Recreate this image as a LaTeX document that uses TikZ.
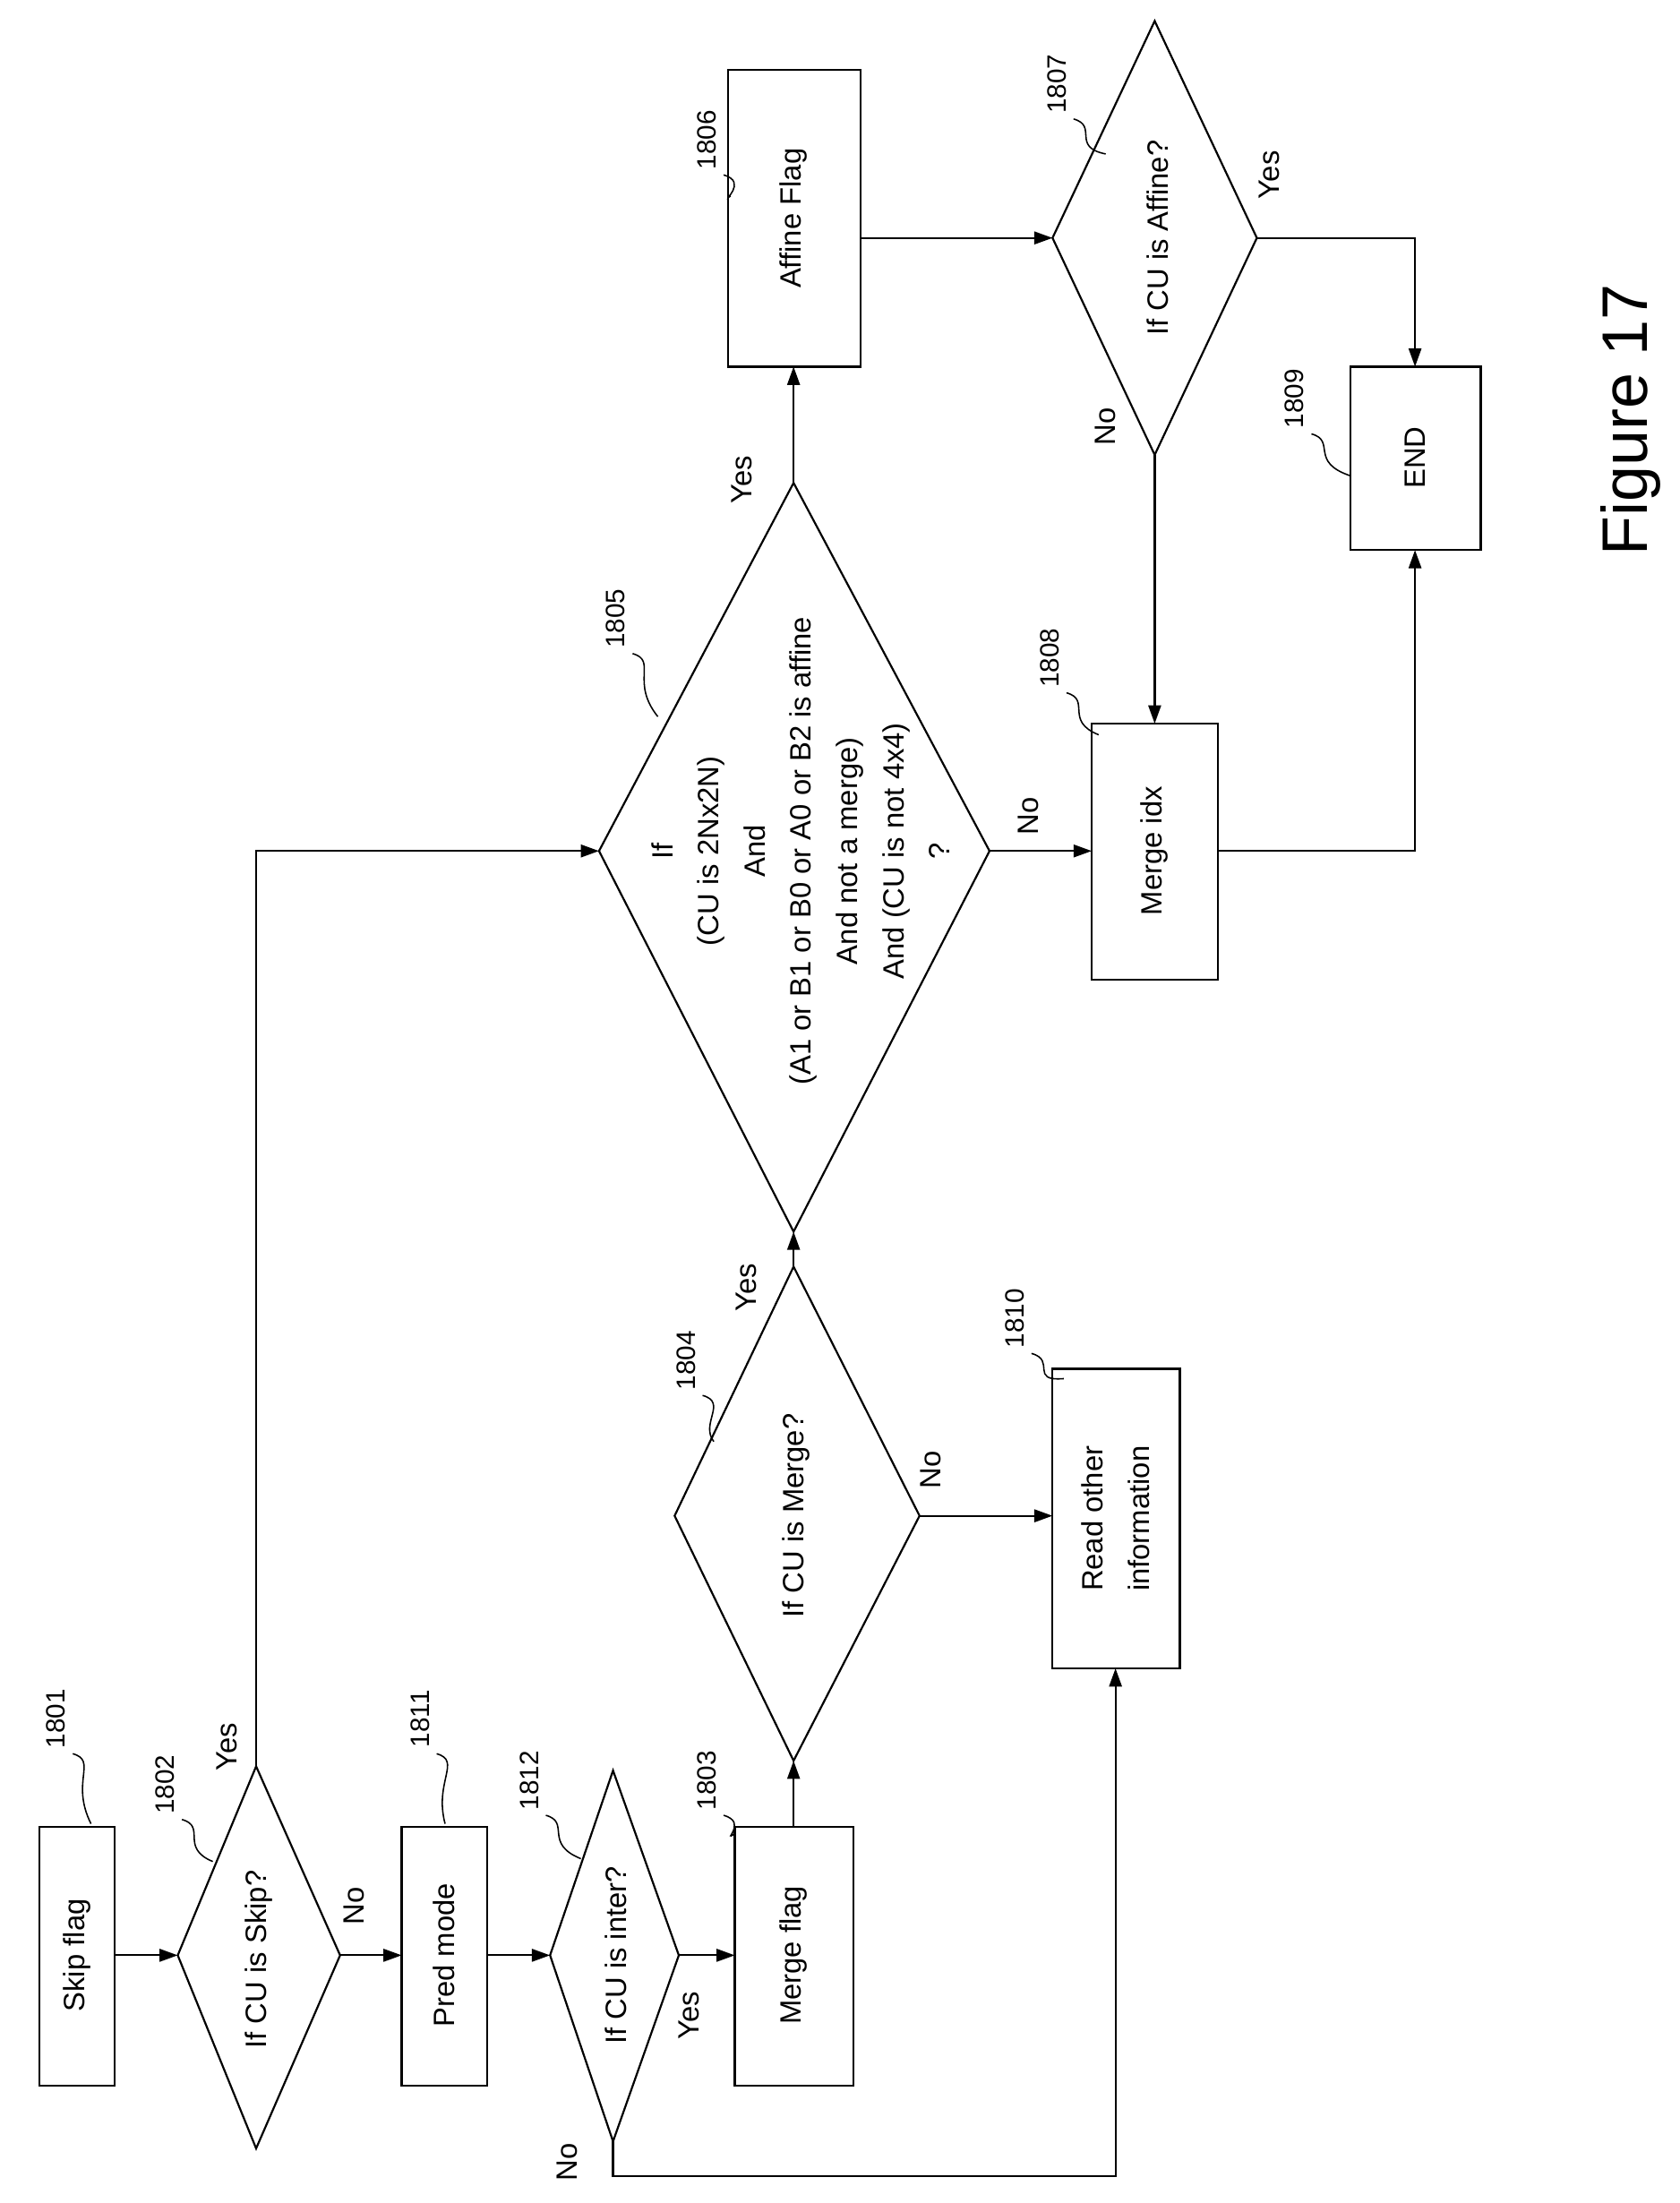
\documentclass[tikz,border=0pt]{standalone}
\usepackage{fontspec}
\setmainfont{Liberation Sans}
\usetikzlibrary{arrows.meta}
\begin{document}
\begin{tikzpicture}[x=1pt,y=-1pt,line width=1.4pt,
  arr/.style={-{Triangle[length=13pt,width=9pt]}},
  txt/.style={rotate=90,font=\fontsize{21}{33}\selectfont,align=center,inner sep=0pt},
  lab/.style={rotate=90,font=\fontsize{19}{22}\selectfont,inner sep=0pt},
  big/.style={rotate=90,font=\fontsize{46}{50}\selectfont,inner sep=0pt}]
\useasboundingbox (0,0) rectangle (1200,1574);
% boxes
\draw (28,1305) rectangle (82,1490); \node[txt] (n1801) at (55,1397) {Skip flag};
\draw (287,1305) rectangle (348,1490); \node[txt] (n1811) at (317,1397) {Pred mode};
\draw (525,1305) rectangle (610,1490); \node[txt] (n1803) at (567,1397) {Merge flag};
\draw (752,978) rectangle (843,1192); \node[txt] (n1810) at (797,1085) {Read other\\information};
\draw (520,50) rectangle (615,262); \node[txt] (n1806) at (567,156) {Affine Flag};
\draw (965,262) rectangle (1058,393); \node[txt] (n1809) at (1011,327) {END};
\draw (780,517) rectangle (870,700); \node[txt] (n1808) at (825,608) {Merge idx};
% diamonds
\draw (127,1397)--(183,1262)--(243,1397)--(183,1535)--cycle; \node[txt] (n1802) at (185,1400) {If CU is Skip?};
\draw (393,1397)--(438,1265)--(485,1397)--(438,1530)--cycle; \node[txt] (n1812) at (440,1397) {If CU is inter?};
\draw (482,1083)--(567,905)--(657,1083)--(567,1258)--cycle; \node[txt] (n1804) at (569,1083) {If CU is Merge?};
\draw (428,608)--(567,345)--(707,608)--(567,880)--cycle;
\node[txt] (n1805) at (572,608) {If\\(CU is 2Nx2N)\\And\\(A1 or B1 or B0 or A0 or B2 is affine\\And not a merge)\\And (CU is not 4x4)\\?};
\draw (752,170)--(825,15)--(898,170)--(825,325)--cycle; \node[txt] (n1807) at (827,170) {If CU is Affine?};
% connectors
\coordinate (a1) at (82,1397); \coordinate (a2) at (127,1397);
\draw[arr] (a1)--(a2);
\coordinate (b1) at (243,1397); \coordinate (b2) at (287,1397);
\draw[arr] (b1)--(b2);
\coordinate (c1) at (183,1262); \coordinate (c2) at (428,608);
\draw[arr] (c1)|-(c2);
\coordinate (d1) at (348,1397); \coordinate (d2) at (393,1397);
\draw[arr] (d1)--(d2);
\coordinate (e1) at (485,1397); \coordinate (e2) at (525,1397);
\draw[arr] (e1)--(e2);
\coordinate (f1) at (438,1530); \coordinate (f2) at (797,1192);
\draw[arr] (f1)--(438,1555)-|(f2);
\coordinate (g1) at (567,1305); \coordinate (g2) at (567,1258);
\draw[arr] (g1)--(g2);
\coordinate (h1) at (657,1083); \coordinate (h2) at (752,1083);
\draw[arr] (h1)--(h2);
\coordinate (i1) at (567,905); \coordinate (i2) at (567,880);
\draw[arr] (i1)--(i2);
\coordinate (j1) at (567,345); \coordinate (j2) at (567,262);
\draw[arr] (j1)--(j2);
\coordinate (k1) at (707,608); \coordinate (k2) at (780,608);
\draw[arr] (k1)--(k2);
\coordinate (l1) at (615,170); \coordinate (l2) at (752,170);
\draw[arr] (l1)--(l2);
\coordinate (m1) at (898,170); \coordinate (m2) at (1011,262);
\draw[arr] (m1)-|(m2);
\coordinate (o1) at (825,325); \coordinate (o2) at (825,517);
\draw[arr] (o1)--(o2);
\coordinate (p1) at (870,608); \coordinate (p2) at (1011,393);
\draw[arr] (p1)-|(p2);
% yes/no
\node[txt] at (162,1248) {Yes};
\node[txt] at (253,1362) {No};
\node[txt] at (492,1440) {Yes};
\node[txt] at (405,1545) {No};
\node[txt] at (665,1050) {No};
\node[txt] at (533,920) {Yes};
\node[txt] at (530,343) {Yes};
\node[txt] at (735,583) {No};
\node[txt] at (907,125) {Yes};
\node[txt] at (790,305) {No};
% ref labels
\newcommand\reflab[5]{\node[lab] at (#1,#2) {#3};
  \draw[line width=1pt] (#1+12,#2+25) .. controls (#1+30,#2+30) and (#1+10,#2+45) .. (#4,#5);}
\reflab{40}{1228}{1801}{65}{1303}
\reflab{118}{1275}{1802}{152}{1330}
\reflab{300}{1228}{1811}{318}{1303}
\reflab{378}{1272}{1812}{415}{1328}
\reflab{505}{1272}{1803}{525}{1310}
\reflab{490}{972}{1804}{510}{1030}
\reflab{725}{942}{1810}{760}{985}
\reflab{440}{442}{1805}{470}{512}
\reflab{750}{470}{1808}{785}{525}
\reflab{505}{100}{1806}{522}{140}
\reflab{755}{60}{1807}{790}{110}
\reflab{925}{285}{1809}{965}{340}
\node[big] (fig) at (1165,300) {Figure 17};
\end{tikzpicture}
\end{document}
